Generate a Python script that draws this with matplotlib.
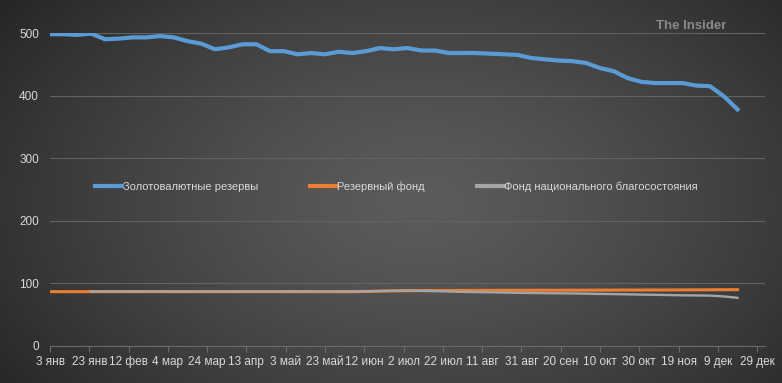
import numpy as np
import pandas as pd
import matplotlib
matplotlib.use("Agg")
import matplotlib.pyplot as plt

plt.rcParams['font.family'] = ['Liberation Sans', 'DejaVu Sans']

# weekly data, 3 Jan - 19 Dec 2014
dates = pd.date_range('2014-01-03', periods=51, freq='7D')

reserves = [498, 498, 497, 499, 490, 491, 493, 493, 495, 493,
            487, 483, 474, 477, 482, 482, 471, 471, 466, 468,
            466, 470, 468, 471, 476, 474, 476, 472, 472, 468,
            468, 468, 467, 466, 465, 460, 458, 456, 455, 452,
            444, 439, 428, 422, 420, 420, 420, 416, 415, 399,
            378]

reserve_fund = [86.8] * 23 + [87.2, 87.7, 88.1, 88.3, 88.5, 88.6, 88.7, 88.8, 88.8, 88.9,
                              89.0, 89.0, 89.0, 89.1, 89.1, 89.2, 89.2, 89.3, 89.3,
                              89.4, 89.4, 89.5, 89.5, 89.6, 89.7, 89.8, 89.9, 90.0]

nwf = [np.nan] * 3 + [87.0] * 20 + [87.4, 87.8, 88.2, 88.5, 88.1, 87.6, 87.1, 86.5,
                                    86.1, 85.8, 85.4, 85.0, 84.7, 84.4, 84.2, 84.0,
                                    83.6, 83.2, 82.9, 82.5, 82.1, 81.8, 81.4, 81.0,
                                    80.8, 80.5, 79.2, 77.0]

names = ['Золотовалютные резервы', 'Резервный фонд', 'Фонд национального благосостояния']
colors = ['#5b9bd5', '#ed7d31', '#a5a5a5']

tick_dates = pd.date_range('2014-01-03', periods=19, freq='20D')
tick_labels = ['3 янв', '23 янв', '12 фев', '4 мар', '24 мар', '13 апр', '3 май',
               '23 май', '12 июн', '2 июл', '22 июл', '11 авг', '31 авг', '20 сен',
               '10 окт', '30 окт', '19 ноя', '9 дек', '29 дек']

fig = plt.figure(figsize=(7.82, 3.83), dpi=100)

# radial gradient background
bg = fig.add_axes([0, 0, 1, 1])
yy, xx = np.mgrid[0:383, 0:782]
r = np.sqrt(((xx - 420) / 520.0) ** 2 + ((yy - 200) / 330.0) ** 2)
r = np.clip(r, 0, 1)
shade = 0.36 - (0.36 - 0.15) * r ** 1.3
bg.imshow(np.dstack([shade, shade, shade]), aspect='auto', extent=[0, 1, 0, 1])
bg.axis('off')

ax = fig.add_axes([50 / 782, 37 / 383, 715 / 782, 313 / 383])
ax.set_facecolor('none')

ax.plot(dates, reserves, color=colors[0], lw=3.0, label=names[0])
ax.plot(dates, reserve_fund, color=colors[1], lw=2.2, label=names[1])
ax.plot(dates, nwf, color=colors[2], lw=1.7, label=names[2])

ax.set_ylim(0, 500)
ax.set_yticks(range(0, 501, 100))
ax.set_xlim(pd.Timestamp('2014-01-03'), pd.Timestamp('2015-01-02'))
ax.set_xticks(tick_dates)
ax.set_xticklabels(tick_labels)

ax.grid(axis='y', color='#626262', lw=0.8)
ax.set_axisbelow(True)
for s in ['top', 'right', 'left']:
    ax.spines[s].set_visible(False)
ax.spines['bottom'].set_color('#6a6a6a')
ax.tick_params(axis='y', length=0, labelcolor='#d9d9d9', labelsize=8.5, pad=8)
ax.tick_params(axis='x', length=4, color='#6a6a6a', labelcolor='#d9d9d9', labelsize=8.5, pad=3)

leg = ax.legend(loc='center', bbox_to_anchor=(0.485, 0.508), ncol=3, frameon=False,
                fontsize=8, labelcolor='#d9d9d9', handlelength=2.4, handletextpad=0.05,
                columnspacing=4.7)
for h in leg.get_lines():
    h.set_linewidth(3.0)

fig.text(0.884, 0.931, 'The Insider', color='#8a8a8a', fontsize=9.5,
         fontweight='bold', ha='center', va='center')

fig.savefig('out.png', dpi=100)
